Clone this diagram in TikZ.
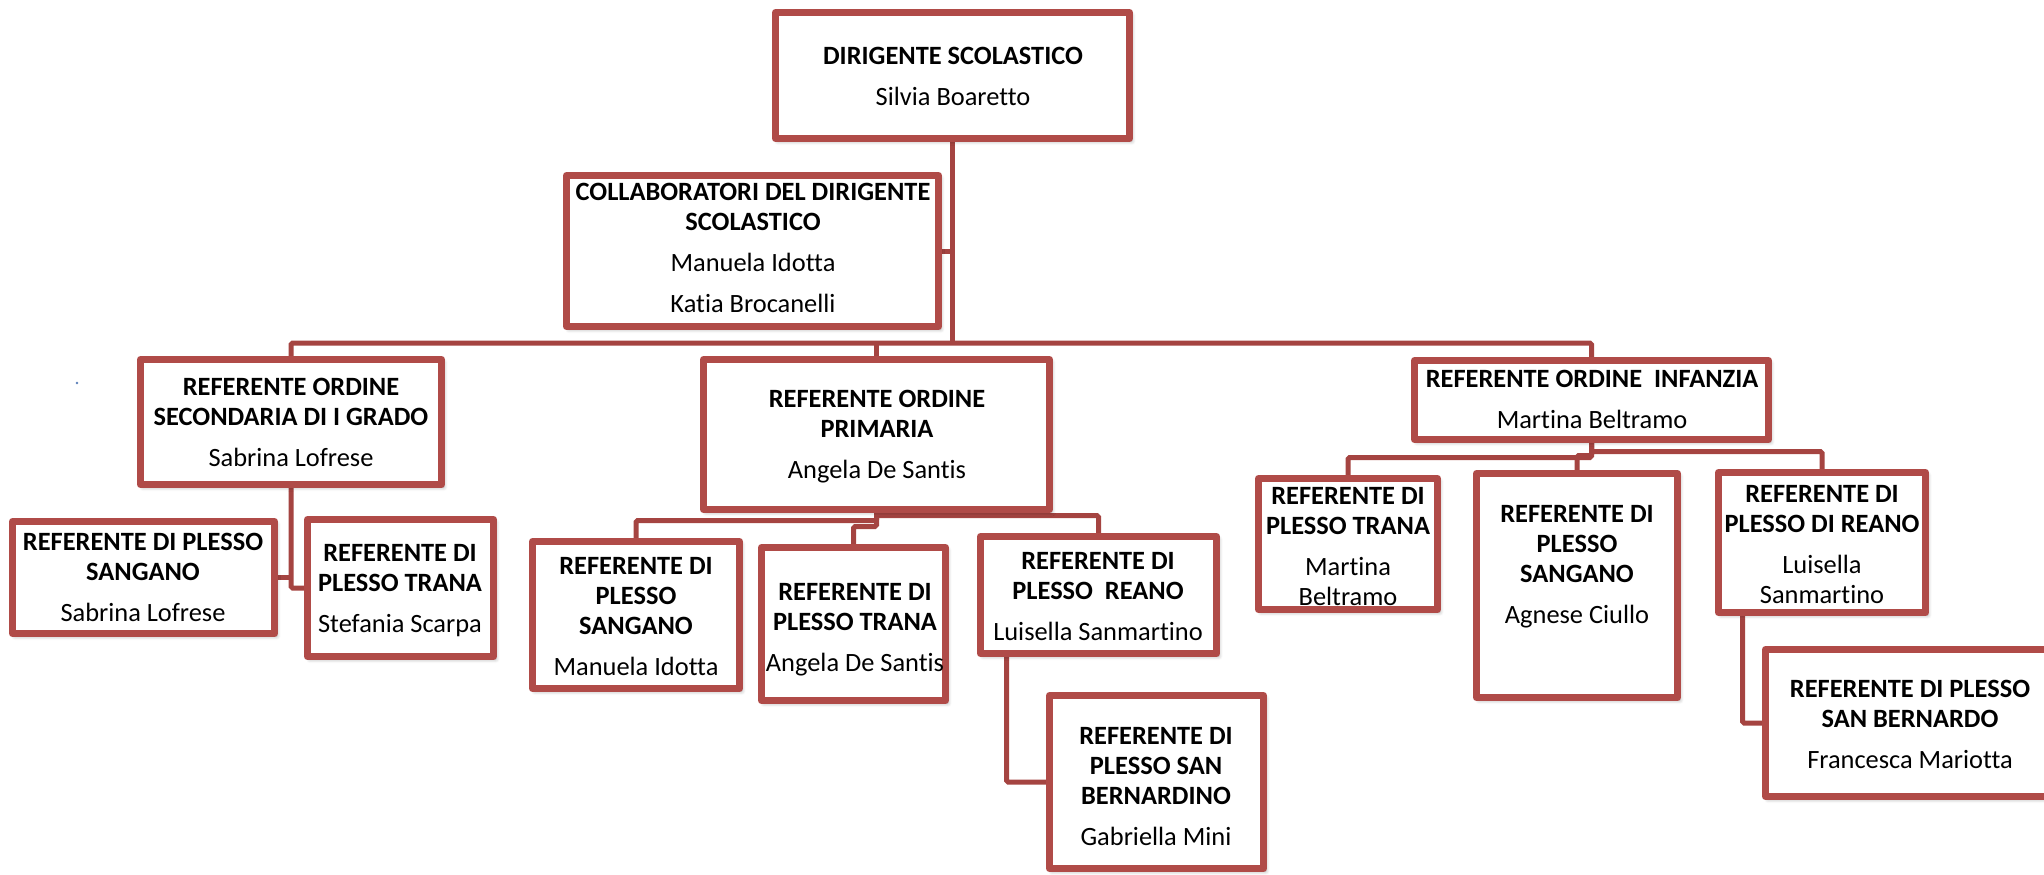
\documentclass[tikz,border=0pt]{standalone}
\usepackage{fontspec}
\setmainfont{Carlito}[Ligatures=NoCommon]
\usetikzlibrary{shadows.blur}
\definecolor{boxred}{HTML}{B04B48}
\definecolor{linkred}{HTML}{A54441}
\definecolor{dotblue}{HTML}{5B7FB8}
\pgfdeclarelayer{background}
\pgfsetlayers{background,main}
\tikzset{
  orgbox/.style={draw=boxred, fill=white, line width=3.5pt, line join=round,
    inner sep=0pt, outer sep=0pt, rectangle,
    blur shadow={shadow xshift=1.2pt, shadow yshift=-1.4pt, shadow blur steps=6, shadow opacity=35}},
  boxtxt/.style={anchor=north, align=center, inner sep=0pt,
    font=\fontsize{13.2pt}{15pt}\selectfont},
  link/.style={draw=linkred, line width=2.5pt, rounded corners=0.8pt}
}
% box from outer corner (x1,y1) to (x2,y2), pixel units
\newcommand\orgbox[5]{\node[orgbox, minimum width={(#4-#2-7)*0.5pt},
  minimum height={(#5-#3-7)*0.5pt}] (#1) at ({(#2+#4)/2},{(#3+#5)/2}) {};}
% text block centred at x, first cap line at y
\newcommand\boxtext[4]{\node[boxtxt] (#1) at (#2,#3) {#4};}
\newcommand\hd[1]{\textbf{#1}}
\newcommand\pgap{\\[5.5pt]}
\begin{document}
\begin{tikzpicture}[x=0.5pt, y=-0.5pt]
\useasboundingbox (0,0) rectangle (2044,874);
\clip (0,0) rectangle (2044,874);

% boxes
\orgbox{dir}{772}{9}{1133}{142}
\orgbox{col}{563}{172}{942}{330}
\orgbox{sec}{137}{356}{445}{488}
\orgbox{sgsec}{9}{518}{278}{637}
\orgbox{trsec}{304}{516}{497}{660}
\orgbox{prim}{700}{356}{1053}{513}
\orgbox{sgpri}{529}{538}{743}{692}
\orgbox{trpri}{758}{544}{949}{704}
\orgbox{repri}{977}{533}{1220}{657}
\orgbox{sbn}{1046}{692}{1267}{872}
\orgbox{inf}{1411}{357}{1772}{443}
\orgbox{trinf}{1255}{475}{1441}{613}
\orgbox{sginf}{1473}{470}{1681}{701}
\orgbox{reinf}{1715}{469}{1929}{616}
\orgbox{sbo}{1762}{646}{2060}{800}

% connectors
\coordinate (bus) at (953,343);
\begin{pgfonlayer}{background}
\draw[link] (dir.south) -- (dir.south |- bus);
\draw[link] (col.east) -- (col.east -| dir.south);
\draw[link] (sec.north) |- (bus) -| (inf.north);
\draw[link] (prim.north |- bus) -- (prim.north);
\draw[link] (sec.south) |- (trsec.west);
\draw[link] (sgsec.east) -- (sgsec.east -| sec.south);
\draw[link] (prim.south) -- ++(0,6) -| (repri.north);
\draw[link] (prim.south) -- ++(0,11) -| (sgpri.north);
\draw[link] (prim.south) -- ++(0,17) -| (trpri.north);
\draw[link] ([xshift=13pt]repri.south west) |- (sbn.west);
\draw[link] (inf.south) -- ++(0,12) -| (reinf.north);
\draw[link] (inf.south) -- ++(0,16) -| (sginf.north);
\draw[link] (inf.south) -- ++(0,18) -| (trinf.north);
\draw[link] ([xshift=12pt]reinf.south west) |- (sbo.west);
\end{pgfonlayer}

% texts
\boxtext{dirT}{953}{47}{\hd{DIRIGENTE SCOLASTICO}\pgap Silvia Boaretto}
\boxtext{colT}{753}{183}{\hd{COLLABORATORI DEL DIRIGENTE}\\\hd{SCOLASTICO}\pgap Manuela Idotta\pgap Katia Brocanelli}
\boxtext{secT}{291}{378}{\hd{REFERENTE ORDINE}\\\hd{SECONDARIA DI I GRADO}\pgap Sabrina Lofrese}
\boxtext{sgsecT}{143}{533}{\hd{REFERENTE DI PLESSO}\\\hd{SANGANO}\pgap Sabrina Lofrese}
\boxtext{trsecT}{400}{544}{\hd{REFERENTE DI}\\\hd{PLESSO TRANA}\pgap Stefania Scarpa}
\boxtext{primT}{877}{390}{\hd{REFERENTE ORDINE}\\\hd{PRIMARIA}\pgap Angela De Santis}
\boxtext{sgpriT}{636}{557}{\hd{REFERENTE DI}\\\hd{PLESSO}\\\hd{SANGANO}\pgap Manuela Idotta}
\boxtext{trpriT}{855}{583}{\hd{REFERENTE DI}\\\hd{PLESSO TRANA}\pgap Angela De Santis}
\boxtext{repriT}{1098}{552}{\hd{REFERENTE DI}\\\hd{PLESSO\ \ REANO}\pgap Luisella Sanmartino}
\boxtext{sbnT}{1156}{727}{\hd{REFERENTE DI}\\\hd{PLESSO SAN}\\\hd{BERNARDINO}\pgap Gabriella Mini}
\boxtext{infT}{1592}{370}{\hd{REFERENTE ORDINE\ \ INFANZIA}\pgap Martina Beltramo}
\boxtext{trinfT}{1348}{487}{\hd{REFERENTE DI}\\\hd{PLESSO TRANA}\pgap Martina\\Beltramo}
\boxtext{sginfT}{1577}{505}{\hd{REFERENTE DI}\\\hd{PLESSO}\\\hd{SANGANO}\pgap Agnese Ciullo}
\boxtext{reinfT}{1822}{485}{\hd{REFERENTE DI}\\\hd{PLESSO DI REANO}\pgap Luisella\\Sanmartino}
\boxtext{sboT}{1910}{680}{\hd{REFERENTE DI PLESSO}\\\hd{SAN BERNARDO}\pgap Francesca Mariotta}

% small stray mark at left
\fill[dotblue] (77,383) circle (1.3);
\end{tikzpicture}
\end{document}
